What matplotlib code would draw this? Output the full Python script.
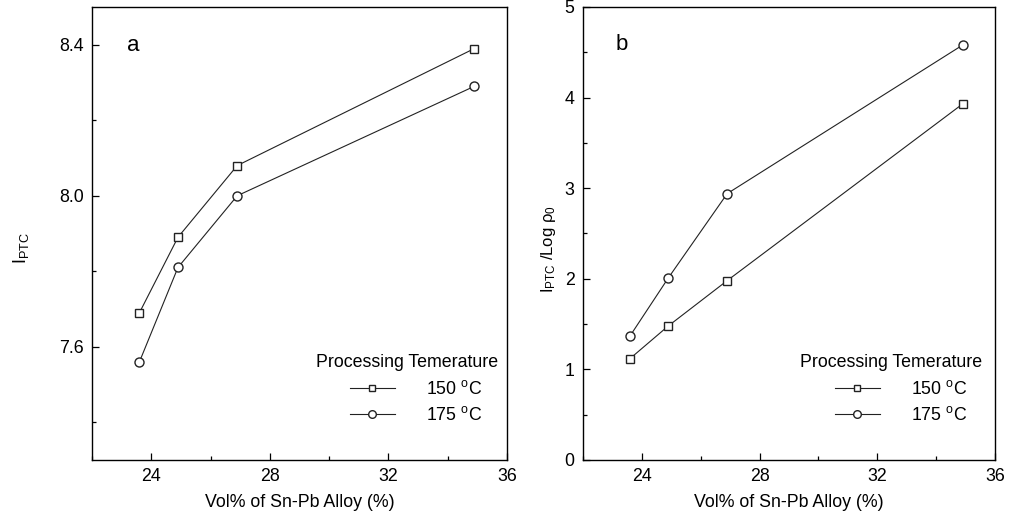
import matplotlib
matplotlib.use("Agg")
import matplotlib.pyplot as plt
from matplotlib.ticker import MultipleLocator, FormatStrFormatter
from matplotlib.lines import Line2D

plt.rcParams['font.family'] = ['Liberation Sans', 'DejaVu Sans']
plt.rcParams['mathtext.fontset'] = 'custom'
plt.rcParams['mathtext.rm'] = 'Liberation Sans'
plt.rcParams['mathtext.it'] = 'Liberation Sans:italic'

# Data
vol = [23.6, 24.9, 26.9, 34.9]
ipt_150 = [7.69, 7.89, 8.08, 8.39]
ipt_175 = [7.56, 7.81, 8.00, 8.29]
ratio_150 = [1.12, 1.48, 1.98, 3.93]
ratio_175 = [1.37, 2.01, 2.94, 4.58]
labels = ["150 $^{\\mathregular{o}}$C", "175 $^{\\mathregular{o}}$C"]
legend_title = "Processing Temerature"
xlabel = "Vol% of Sn-Pb Alloy (%)"

W, H = 1010, 516
fig = plt.figure(figsize=(W / 100, H / 100), dpi=100)
ax1 = fig.add_axes([92 / W, 1 - 460 / H, 415 / W, 453 / H])
ax2 = fig.add_axes([583 / W, 1 - 460 / H, 412 / W, 453 / H])

col = '#222222'
fs = 12.8
lw = 0.8


def style(ax):
    for s in ax.spines.values():
        s.set_linewidth(1.0)
        s.set_color('black')
    ax.tick_params(which='both', direction='in', top=False, right=False,
                   labelsize=fs, width=0.9)
    ax.tick_params(which='major', length=5, pad=6)
    ax.tick_params(which='minor', length=3)
    ax.set_xlim(22, 36)
    ax.xaxis.set_major_locator(MultipleLocator(4))
    ax.xaxis.set_minor_locator(MultipleLocator(2))
    ax.set_xlabel(xlabel, fontsize=fs, labelpad=6)


def draw(ax, y150, y175, hx, tx, panel, ptxt):
    ax.plot(vol, y150, '-s', color=col, lw=lw, ms=6, mfc='white', mec=col, mew=1.0)
    ax.plot(vol, y175, '-o', color=col, lw=lw, ms=6.5, mfc='white', mec=col, mew=1.0)
    handles = [
        Line2D([], [], color=col, lw=lw, marker='s', ms=5, mfc='white', mec=col, mew=1.0),
        Line2D([], [], color=col, lw=lw, marker='o', ms=5.5, mfc='white', mec=col, mew=1.0),
    ]
    ax.legend(handles, labels, loc='upper left', bbox_to_anchor=(hx, 0.177),
              frameon=False, fontsize=fs, handlelength=2.5, handletextpad=1.75,
              labelspacing=0.45, borderpad=0, borderaxespad=0)
    ax.text(tx, 0.216, legend_title, transform=ax.transAxes, ha='center',
            va='center', fontsize=fs)
    ax.text(ptxt[0], ptxt[1], panel, transform=ax.transAxes, ha='center',
            va='center', fontsize=16)


style(ax1)
ax1.set_ylim(7.3, 8.5)
ax1.yaxis.set_major_locator(MultipleLocator(0.4))
ax1.yaxis.set_minor_locator(MultipleLocator(0.2))
ax1.yaxis.set_major_formatter(FormatStrFormatter('%.1f'))
ax1.set_ylabel("I$_{\\mathregular{PTC}}$", fontsize=13, labelpad=20, y=0.468)
draw(ax1, ipt_150, ipt_175, 0.622, 0.759, 'a', (0.1, 0.915))

style(ax2)
ax2.set_ylim(0, 5)
ax2.yaxis.set_major_locator(MultipleLocator(1))
ax2.yaxis.set_minor_locator(MultipleLocator(0.5))
ax2.set_ylabel("I$_{\\mathregular{PTC}}$ /Log ρ$_{\\mathregular{0}}$", fontsize=12,
               labelpad=5, y=0.466)
draw(ax2, ratio_150, ratio_175, 0.612, 0.748, 'b', (0.095, 0.918))

fig.savefig("out.png", dpi=100)
